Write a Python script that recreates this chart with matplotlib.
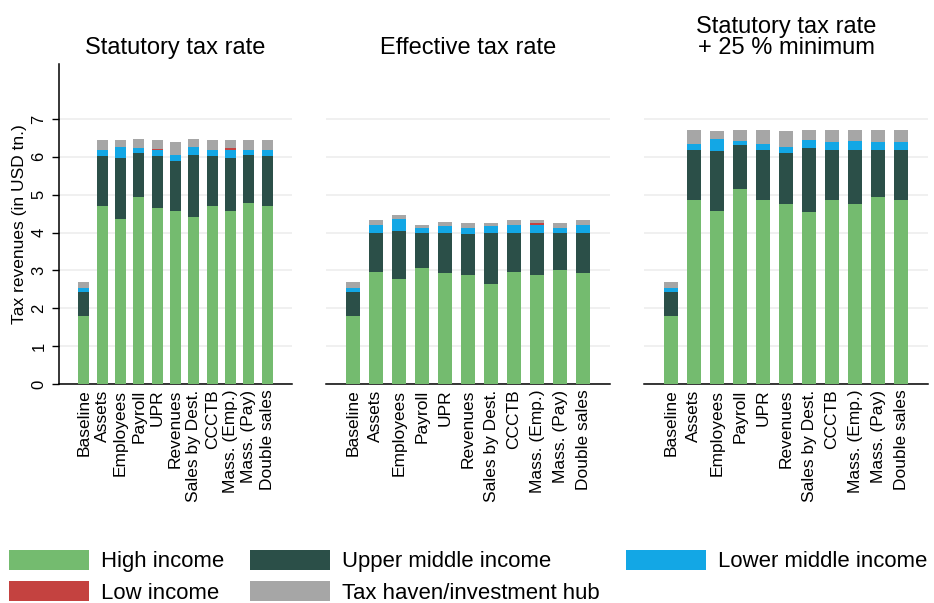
import numpy as np
import matplotlib
matplotlib.use("Agg")
import matplotlib.pyplot as plt
from matplotlib.patches import Patch

plt.rcParams['font.family'] = ['Liberation Sans', 'DejaVu Sans']

scenarios = ['Baseline', 'Assets', 'Employees', 'Payroll', 'UPR', 'Revenues',
             'Sales by Dest.', 'CCCTB', 'Mass. (Emp.)', 'Mass. (Pay)', 'Double sales']
titles = ['Statutory tax rate', 'Effective tax rate', 'Statutory tax rate\n+ 25 % minimum']

groups = ['High income', 'Upper middle income', 'Lower middle income',
          'Low income', 'Tax haven/investment hub']
colors = ['#74bb6f', '#2b4f48', '#13a7e5', '#c44240', '#a6a6a6']

# segment heights (USD tn.) per panel, stacked bottom -> top
# panel 1: statutory tax rate
stat_high  = [1.80, 4.71, 4.37, 4.95, 4.66, 4.58, 4.40, 4.69, 4.58, 4.77, 4.69]
stat_upper = [0.64, 1.30, 1.59, 1.14, 1.35, 1.32, 1.66, 1.32, 1.40, 1.27, 1.32]
stat_lower = [0.10, 0.18, 0.31, 0.13, 0.16, 0.16, 0.21, 0.18, 0.21, 0.15, 0.18]
stat_low   = [0.00, 0.00, 0.00, 0.00, 0.03, 0.00, 0.00, 0.00, 0.03, 0.00, 0.00]
stat_haven = [0.16, 0.24, 0.16, 0.24, 0.24, 0.32, 0.19, 0.24, 0.21, 0.24, 0.24]

# panel 2: effective tax rate
eff_high  = [1.80, 2.97, 2.78, 3.07, 2.94, 2.89, 2.64, 2.97, 2.89, 3.00, 2.94]
eff_upper = [0.64, 1.03, 1.27, 0.93, 1.06, 1.06, 1.36, 1.03, 1.11, 1.00, 1.06]
eff_lower = [0.10, 0.19, 0.32, 0.11, 0.16, 0.16, 0.16, 0.19, 0.21, 0.13, 0.19]
eff_low   = [0.00, 0.00, 0.00, 0.00, 0.00, 0.00, 0.00, 0.00, 0.03, 0.00, 0.00]
eff_haven = [0.16, 0.13, 0.08, 0.10, 0.13, 0.15, 0.10, 0.13, 0.10, 0.13, 0.13]

# panel 3: statutory + 25 % minimum
min_high  = [1.80, 4.87, 4.56, 5.14, 4.85, 4.74, 4.53, 4.85, 4.74, 4.95, 4.85]
min_upper = [0.64, 1.30, 1.58, 1.16, 1.32, 1.35, 1.69, 1.34, 1.43, 1.24, 1.34]
min_lower = [0.10, 0.18, 0.34, 0.11, 0.18, 0.16, 0.21, 0.19, 0.24, 0.19, 0.19]
min_low   = [0.00, 0.00, 0.00, 0.00, 0.00, 0.00, 0.00, 0.00, 0.00, 0.00, 0.00]
min_haven = [0.16, 0.35, 0.19, 0.29, 0.35, 0.42, 0.27, 0.32, 0.29, 0.32, 0.32]

panels = [
    [stat_high, stat_upper, stat_lower, stat_low, stat_haven],
    [eff_high, eff_upper, eff_lower, eff_low, eff_haven],
    [min_high, min_upper, min_lower, min_low, min_haven],
]

W, H = 934, 603
fig = plt.figure(figsize=(W / 100, H / 100), dpi=100)

# axes boxes in pixels: left, right
boxes = [(59, 292), (326, 610), (644, 928)]
top_px, bot_px = 64, 384
x = np.arange(len(scenarios))

for i, (l, r) in enumerate(boxes):
    ax = fig.add_axes([l / W, 1 - bot_px / H, (r - l) / W, (bot_px - top_px) / H])
    bottom = np.zeros(len(scenarios))
    # draw order: high, upper, lower, low, haven
    for vals, c in zip(panels[i], colors):
        v = np.array(vals)
        ax.bar(x, v, 0.6, bottom=bottom, color=c, linewidth=0, zorder=3)
        bottom += v

    margin = 1.35 if i == 0 else 1.17
    ax.set_xlim(-margin, len(scenarios) - 1 + margin)
    ax.set_ylim(0, 8.45)
    ax.set_yticks(range(8))
    ax.yaxis.grid(True, color='#efefef', linewidth=1.3, zorder=0)
    ax.set_axisbelow(True)
    for s in ['top', 'right']:
        ax.spines[s].set_visible(False)
    ax.spines['bottom'].set_linewidth(1.1)
    ax.set_xticks(x)
    ax.set_xticklabels(scenarios, rotation=90, fontsize=12.5)
    ax.tick_params(axis='x', length=0, pad=4)
    if i == 0:
        ax.spines['left'].set_linewidth(1.1)
        ax.tick_params(axis='y', length=5, width=1, pad=4, labelsize=12)
        for t in ax.get_yticklabels():
            t.set_rotation(90)
            t.set_va('center')
        ax.set_ylabel('Tax revenues (in USD tn.)', fontsize=12.5, labelpad=3)
    else:
        ax.spines['left'].set_visible(False)
        ax.tick_params(axis='y', length=0, labelleft=False)
    ax.set_title(titles[i], fontsize=17, pad=7, linespacing=0.95)

handles = [Patch(facecolor=c, edgecolor='none') for c in colors]
order = [0, 3, 1, 4, 2]
fig.legend([handles[k] for k in order], [groups[k] for k in order],
           ncol=3, loc='upper left', bbox_to_anchor=(9 / W, 1 - 550 / H),
           frameon=False, fontsize=15.9, handlelength=3.6, handleheight=1.0,
           handletextpad=0.55, columnspacing=1.2, labelspacing=0.4,
           borderpad=0, borderaxespad=0)

fig.savefig('out.png', dpi=100)
